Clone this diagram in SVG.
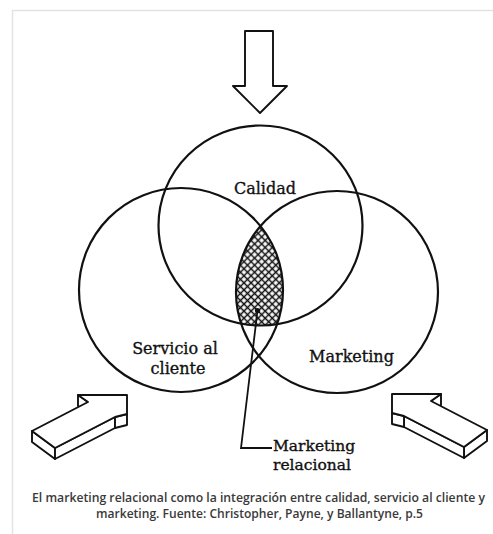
<svg xmlns="http://www.w3.org/2000/svg" width="493" height="534" viewBox="0 0 493 534">
<style>
.ring{fill:none;stroke:#111;stroke-width:2.2}
.face{fill:#fff;stroke:#111;stroke-width:1.9;stroke-linejoin:round}
.lbl{font-family:"DejaVu Serif","Liberation Serif",serif;font-size:16px;fill:#111;stroke:#111;stroke-width:0.35}
.lbl2{font-size:15.5px}
.cap{font-family:"Open Sans","Liberation Sans",sans-serif;font-size:11.8px;font-weight:600;fill:#3a3a3a}
.frame{stroke:#e3e3e3;stroke-width:1.5;fill:none}
</style>
<defs>
<pattern id="hatch" width="5" height="5" patternUnits="userSpaceOnUse" patternTransform="rotate(45)">
<path d="M0,2.5 H5 M2.5,0 V5" stroke="#111" stroke-width="1.5"/>
</pattern>
<clipPath id="cL"><circle cx="181" cy="290" r="102"/></clipPath>
<clipPath id="cR"><circle cx="337" cy="292" r="101"/></clipPath>
<clipPath id="cT"><ellipse cx="260.5" cy="225.5" rx="102" ry="100"/></clipPath>
<g id="arrow3d">
<polygon class="face" points="78,395 88,402 88,413 78,406"/>
<polygon class="face" points="32,431 55,448 55,459 32,442"/>
<polygon class="face" points="55,448 115,417 115,428 55,459"/>
<polygon class="face" points="115,417 127,414 127,425 115,428"/>
<polygon class="face" points="127,395 78,395 88,402 32,431 55,448 115,417 127,414"/>
</g>
</defs>
<path class="frame" d="M12.5,534 V10.5 H493"/>
<g id="arrow-top"><polygon class="face" points="245,31 273,31 273,86 287,86 260,113 233,86 245,86"/></g>
<g id="arrow-left"><use href="#arrow3d"/></g>
<g id="arrow-right"><use href="#arrow3d" transform="matrix(-1 0 0 1 519 -1)"/></g>
<g id="relacional">
<g clip-path="url(#cL)"><g clip-path="url(#cR)"><rect x="150" y="150" width="220" height="250" fill="url(#hatch)" clip-path="url(#cT)"/></g></g>
<circle cx="257.5" cy="310.5" r="2.6" fill="#111"/>
<text class="lbl lbl2" x="273" y="451">Marketing</text>
<text class="lbl lbl2" x="273" y="469.5">relacional</text>
</g>
<g id="calidad"><ellipse class="ring" cx="260.5" cy="225.5" rx="102" ry="100"/><text class="lbl" x="265" y="194" text-anchor="middle">Calidad</text></g>
<g id="servicio"><circle class="ring" cx="181" cy="290" r="102"/><text class="lbl" x="175" y="354" text-anchor="middle">Servicio al</text><text class="lbl" x="178" y="374" text-anchor="middle">cliente</text></g>
<g id="marketing"><circle class="ring" cx="337" cy="292" r="101"/><text class="lbl" x="351.5" y="362" text-anchor="middle">Marketing</text></g>
<g id="connectors"><polyline points="257.5,310.5 241,448 272,448" fill="none" stroke="#111" stroke-width="1.8"/></g>
<g id="caption">
<text class="cap" x="258.5" y="502" text-anchor="middle" textLength="453" lengthAdjust="spacingAndGlyphs">El marketing relacional como la integración entre calidad, servicio al cliente y</text>
<text class="cap" x="259.5" y="518" text-anchor="middle" textLength="327" lengthAdjust="spacingAndGlyphs">marketing. Fuente: Christopher, Payne, y Ballantyne, p.5</text>
</g>
</svg>
